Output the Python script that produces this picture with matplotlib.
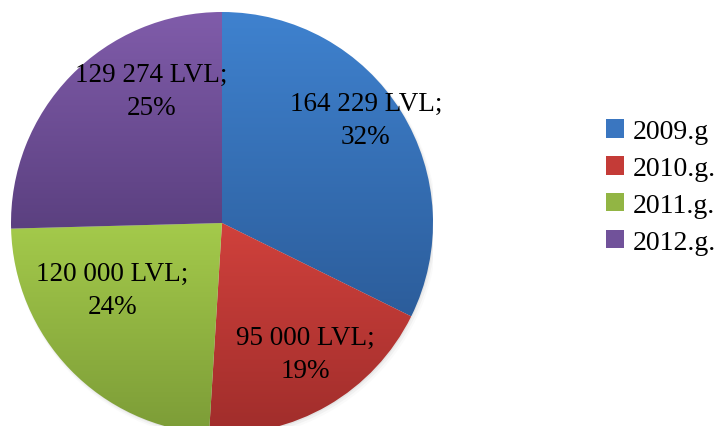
import numpy as np
import matplotlib
matplotlib.use('Agg')
import matplotlib.pyplot as plt
from matplotlib.colors import LinearSegmentedColormap
from matplotlib.patches import Patch, Circle

# data
years = ['2009.g', '2010.g.', '2011.g.', '2012.g.']
amounts = [164229, 95000, 120000, 129274]
value_labels = ['164 229 LVL;', '95 000 LVL;', '120 000 LVL;', '129 274 LVL;']

# (top, bottom) gradient colours per slice
grad_colors = [('#3f82cf', '#2c5d9b'),
               ('#d0413c', '#a02d2b'),
               ('#a4ca4b', '#7c9c37'),
               ('#805caa', '#5b4080')]
legend_colors = ['#3a76c0', '#c43b37', '#92b544', '#71529a']

# label placement (x, y in pie radius units), Excel "best fit"
label_xy = [(0.682, 0.488), (0.393, -0.621), (-0.521, -0.318), (-0.336, 0.626)]

plt.rcParams['font.family'] = ['Liberation Serif', 'DejaVu Serif']

fig = plt.figure(figsize=(7.16, 4.27), dpi=100)
ax = fig.add_axes([11 / 716, (427 - 435) / 427, 422 / 716, 422 / 427])

# soft shadow
for i, a in enumerate([0.10, 0.07, 0.04]):
    ax.add_patch(Circle((0.004 * (i + 1), -0.006 * (i + 1)), 1.0 + 0.004 * i,
                        facecolor='#808080', edgecolor='none', alpha=a, zorder=0))

wedges, _ = ax.pie(amounts, startangle=90, counterclock=False, radius=1,
                   wedgeprops=dict(edgecolor='none', linewidth=0))

for w, (top, bot) in zip(wedges, grad_colors):
    ext = w.get_path().get_extents()
    cmap = LinearSegmentedColormap.from_list('g', [bot, top])
    grad = np.linspace(0, 1, 256).reshape(-1, 1)
    im = ax.imshow(grad, cmap=cmap, origin='lower', aspect='auto',
                   extent=(ext.x0, ext.x1, ext.y0, ext.y1), zorder=2,
                   interpolation='bicubic')
    im.set_clip_path(w)
    w.set_facecolor('none')

total = sum(amounts)
for (x, y), lab, v in zip(label_xy, value_labels, amounts):
    ax.text(x, y, '%s\n%d%%' % (lab, round(100 * v / total)), ha='center', va='center',
            fontsize=19.5, color='black', linespacing=1.4, zorder=5)

ax.set_xlim(-1, 1)
ax.set_ylim(-1, 1)
ax.set_aspect('equal')
ax.axis('off')

handles = [Patch(facecolor=c, edgecolor='none') for c in legend_colors]
fig.legend(handles, years, loc='upper left', bbox_to_anchor=(606 / 716, 1 - 120 / 427),
           frameon=False, fontsize=20, handlelength=0.65, handleheight=0.65,
           handletextpad=0.3, labelspacing=0.43, borderaxespad=0, borderpad=0)

fig.savefig('out.png', dpi=100)
